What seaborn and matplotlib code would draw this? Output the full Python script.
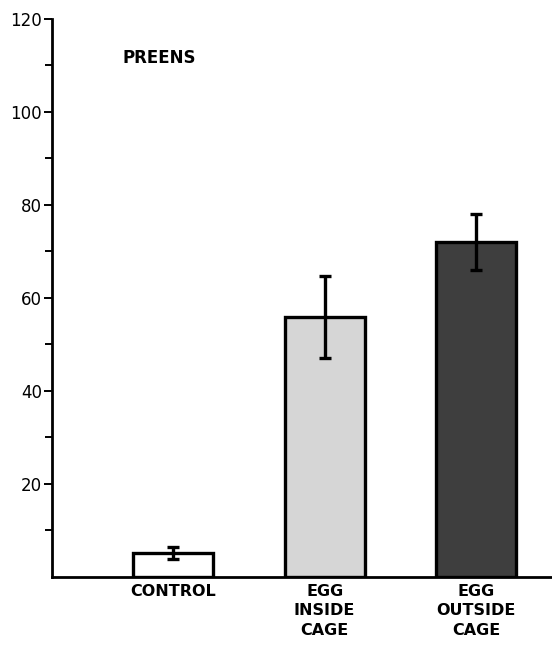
import matplotlib
matplotlib.use("Agg")
import matplotlib.pyplot as plt
import seaborn as sns
import pandas as pd

# Preening counts per condition, with error bars
categories = ["CONTROL", "EGG\nINSIDE\nCAGE", "EGG\nOUTSIDE\nCAGE"]
means = [5.2, 55.8, 72.0]
errors = [1.3, 8.8, 6.0]
fills = ["#ffffff", "#d6d6d6", "#3e3e3e"]
major_ticks = [20, 40, 60, 80, 100, 120]
minor_ticks = [10, 30, 50, 70, 90, 110]

sns.set_theme(style="white")
plt.rcParams["font.family"] = ["DejaVu Sans"]
plt.rcParams["text.color"] = "black"
plt.rcParams["xtick.color"] = "black"
plt.rcParams["ytick.color"] = "black"
plt.rcParams["axes.labelcolor"] = "black"

df = pd.DataFrame({"condition": categories, "preens": means})

fig = plt.figure(figsize=(5.52, 6.49), dpi=100)
ax = fig.add_axes([0.094, 0.111, 0.906, 0.86])

sns.barplot(data=df, x="condition", y="preens", hue="condition",
            palette=fills, legend=False, width=0.53, ax=ax,
            edgecolor="black", linewidth=2.4, errorbar=None)
ax.errorbar(range(len(categories)), means, yerr=errors, fmt="none",
            ecolor="black", elinewidth=2.4, capsize=4, capthick=2.4)

ax.set_xlim(-0.8, 2.5)
ax.set_ylim(0, 120)
ax.set_yticks(major_ticks)
ax.set_yticks(minor_ticks, minor=True)
ax.tick_params(axis="y", which="major", direction="out", length=6, width=1.4,
               left=True, labelsize=12, pad=1, colors="black")
ax.tick_params(axis="y", which="minor", direction="out", length=5, width=1.4,
               left=True, colors="black")
ax.tick_params(axis="x", length=0, pad=5, colors="black")
for lab in ax.get_xticklabels():
    lab.set_fontweight("bold")
    lab.set_fontsize(11.5)
    lab.set_linespacing(1.38)
    lab.set_color("black")
ax.set_xlabel("")
ax.set_ylabel("")

for side in ["top", "right"]:
    ax.spines[side].set_visible(False)
for side in ["left", "bottom"]:
    ax.spines[side].set_linewidth(2.0)
    ax.spines[side].set_color("black")

ax.text(0.142, 0.93, "PREENS", transform=ax.transAxes, fontsize=12,
        fontweight="bold", ha="left", va="center", color="black")

fig.savefig("out.png", dpi=100, facecolor="white")
